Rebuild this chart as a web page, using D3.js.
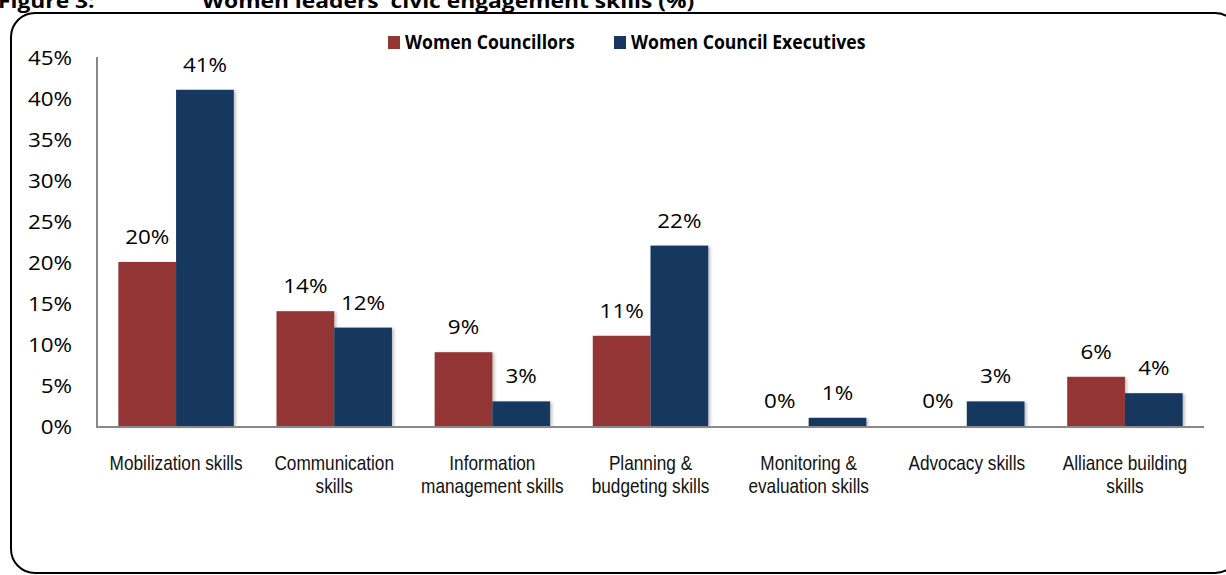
<!DOCTYPE html>
<html>
<head>
<meta charset="utf-8">
<script src="https://cdn.jsdelivr.net/npm/d3@7/dist/d3.min.js"></script>
<style>
  html, body { margin: 0; padding: 0; background: #fff; }
  svg { display: block; }
</style>
</head>
<body>
<svg id="chart" width="1226" height="575"></svg>
<script>
// Women leaders' civic engagement skills, share of respondents (%)
const categories = [
  ["Mobilization skills"],
  ["Communication", "skills"],
  ["Information", "management skills"],
  ["Planning &", "budgeting skills"],
  ["Monitoring &", "evaluation skills"],
  ["Advocacy skills"],
  ["Alliance building", "skills"]
];
const seriesNames = ["Women Councillors", "Women Council Executives"];
const councillors = [20, 14, 9, 11, 0, 0, 6];
const executives  = [41, 12, 3, 22, 1, 3, 4];
const yTicks = [0, 5, 10, 15, 20, 25, 30, 35, 40, 45];
const colors = ["#943634", "#17375E"];

const svg = d3.select("#chart");

// Plot area
const plotLeft = 97, plotRight = 1204, plotTop = 57, plotBottom = 426;

const x = d3.scaleBand()
  .domain(d3.range(categories.length))
  .range([plotLeft, plotRight])
  .paddingInner(0.27)
  .paddingOuter(0.135);

const xSub = d3.scaleBand()
  .domain(d3.range(seriesNames.length))
  .range([0, x.bandwidth()]);

const y = d3.scaleLinear().domain([0, 45]).range([plotBottom, plotTop]);

// Soft shadow under bars
const defs = svg.append("defs");
const f = defs.append("filter").attr("id", "shadow")
  .attr("x", "-10%").attr("y", "-5%").attr("width", "130%").attr("height", "115%");
f.append("feDropShadow").attr("dx", 2).attr("dy", 1).attr("stdDeviation", 1.5)
  .attr("flood-color", "#000").attr("flood-opacity", 0.25);

// Figure caption sitting on the top edge of the page
const titleFont = "'Open Sans', 'Noto Sans', sans-serif";
svg.append("text")
  .attr("font-family", titleFont).attr("font-weight", "bold").attr("font-size", 19)
  .attr("fill", "#000")
  .attr("transform", "translate(-2,8) scale(1.2,1)")
  .text("Figure 3:");
svg.append("text")
  .attr("font-family", titleFont).attr("font-weight", "bold").attr("font-size", 19)
  .attr("fill", "#000")
  .attr("transform", "translate(202,8) scale(1.2,1)")
  .text("Women leaders' civic engagement skills (%)");

// Rounded frame around the chart
svg.append("rect")
  .attr("x", 11).attr("y", 13).attr("width", 1228).attr("height", 560)
  .attr("rx", 24).attr("ry", 24)
  .attr("fill", "none").attr("stroke", "#000").attr("stroke-width", 2);

const numFont = "'Open Sans', 'Noto Sans', sans-serif";
const numScale = 1.12;

// Y axis labels
const yAxis = d3.axisLeft(y).tickValues(yTicks).tickSize(0).tickFormat(d => d + "%");
const gy = svg.append("g").attr("transform", `translate(${plotLeft},0)`).call(yAxis);
gy.select(".domain").remove();
gy.selectAll("text")
  .attr("x", 0).attr("dy", null).attr("y", 0)
  .attr("text-anchor", "end")
  .attr("font-family", numFont).attr("font-size", 20).attr("fill", "#000")
  .attr("transform", `translate(-25,7) scale(${numScale},1)`);

// Bars
const groups = svg.append("g").selectAll("g")
  .data(categories.map((c, i) => ({ i, vals: [councillors[i], executives[i]] })))
  .join("g")
  .attr("transform", d => `translate(${x(d.i)},0)`);

groups.selectAll("rect")
  .data(d => d.vals.map((v, s) => ({ v, s })).filter(d => d.v > 0))
  .join("rect")
  .attr("x", d => xSub(d.s))
  .attr("y", d => y(d.v))
  .attr("width", xSub.bandwidth())
  .attr("height", d => y(0) - y(d.v))
  .attr("fill", d => colors[d.s])
  .attr("filter", "url(#shadow)");

// Value labels
groups.selectAll("text.val")
  .data(d => d.vals.map((v, s) => ({ v, s })))
  .join("text")
  .attr("class", "val")
  .attr("text-anchor", "middle")
  .attr("font-family", numFont).attr("font-size", 20).attr("fill", "#000")
  .attr("transform", d => `translate(${xSub(d.s) + xSub.bandwidth() / 2},${y(d.v) - 18}) scale(${numScale},1)`)
  .text(d => d.v + "%");

// Axis lines
svg.append("line").attr("x1", plotLeft).attr("x2", plotLeft).attr("y1", plotTop).attr("y2", plotBottom + 1)
  .attr("stroke", "#898989").attr("stroke-width", 2);
svg.append("line").attr("x1", plotLeft - 1).attr("x2", plotRight).attr("y1", plotBottom + 1).attr("y2", plotBottom + 1)
  .attr("stroke", "#898989").attr("stroke-width", 2);

// Category labels
const catFont = "'Liberation Sans', Arial, sans-serif";
const catLabels = svg.append("g").selectAll("text")
  .data(categories.map((c, i) => ({ c, i })))
  .join("text")
  .attr("text-anchor", "middle")
  .attr("font-family", catFont).attr("font-size", 21).attr("fill", "#111")
  .attr("transform", d => `translate(${x(d.i) + x.bandwidth() / 2},470) scale(0.82,1)`);
catLabels.selectAll("tspan")
  .data(d => d.c)
  .join("tspan")
  .attr("x", 0)
  .attr("y", (d, k) => k * 23)
  .text(d => d);

// Legend
const legendX = [388, 614];
const lg = svg.append("g").selectAll("g")
  .data(seriesNames.map((n, s) => ({ n, s })))
  .join("g")
  .attr("transform", d => `translate(${legendX[d.s]},36)`);
lg.append("rect").attr("width", 12).attr("height", 13).attr("fill", d => colors[d.s]);
lg.append("text")
  .attr("font-family", titleFont).attr("font-weight", "bold").attr("font-size", 20)
  .attr("fill", "#000")
  .attr("transform", "translate(17,13) scale(0.88,1)")
  .text(d => d.n);
</script>
</body>
</html>
